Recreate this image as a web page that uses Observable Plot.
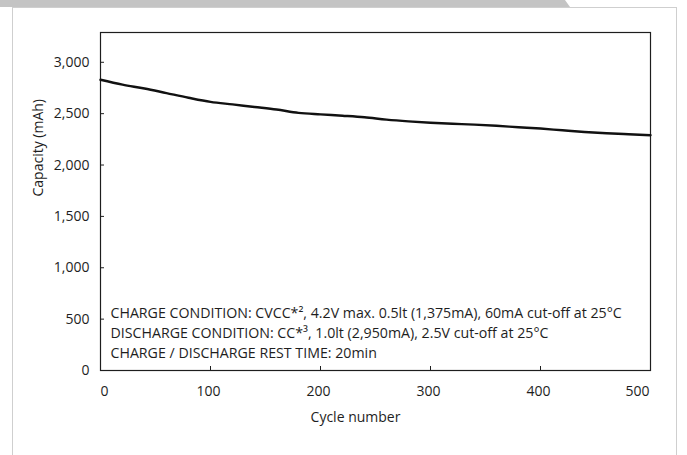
<!DOCTYPE html>
<html>
<head>
<meta charset="utf-8">
<script src="https://cdn.jsdelivr.net/npm/d3@7"></script>
<script src="https://cdn.jsdelivr.net/npm/@observablehq/plot@0.6"></script>
<style>
  html, body { margin: 0; padding: 0; background: #fff; }
  #wrap { position: relative; width: 687px; height: 455px; overflow: hidden; background: #fff; }
  #band { position: absolute; left: 0; top: 0; width: 570px; height: 7px; background: #c4c4c4;
          clip-path: polygon(0 0, 565px 0, 570px 7px, 0 7px); }
  #box { position: absolute; left: 12px; top: 7px; width: 665px; height: 460px;
         border: 1px solid #cfcfcf; border-bottom: none; box-sizing: border-box; }
  #chart { position: absolute; left: 0; top: 0; }
  #chart svg { background: transparent; }
</style>
</head>
<body>
<div id="wrap">
  <div id="box"></div>
  <div id="band"></div>
  <div id="chart"></div>
</div>
<script>
// Cycle life data
const cycles   = [0, 20, 40, 60, 80, 100, 120, 140, 160, 180, 200, 220, 240, 260, 280, 300, 320, 340, 360, 380, 400, 420, 440, 460, 480, 500];
const capacity = [2830, 2782, 2745, 2700, 2655, 2615, 2590, 2565, 2540, 2508, 2493, 2480, 2465, 2442, 2425, 2412, 2402, 2393, 2382, 2368, 2355, 2338, 2322, 2310, 2300, 2290];
const xTicks = [0, 100, 200, 300, 400, 500];
const yTicks = [0, 500, 1000, 1500, 2000, 2500, 3000];
const notes = [
  "CHARGE CONDITION: CVCC*², 4.2V max. 0.5lt (1,375mA), 60mA cut-off at 25°C",
  "DISCHARGE CONDITION: CC*³, 1.0lt (2,950mA), 2.5V cut-off at 25°C",
  "CHARGE / DISCHARGE REST TIME: 20min"
];
const xLabel = "Cycle number";
const yLabel = "Capacity (mAh)";

const data = cycles.map((c, i) => ({cycle: c, cap: capacity[i]}));
const font = "'Open Sans', Roboto, sans-serif";
const fmt = d3.format(",");
const ink = "#1e1e1e";

const chart = Plot.plot({
  width: 687,
  height: 455,
  marginLeft: 100,
  marginRight: 37,
  marginTop: 32,
  marginBottom: 85,
  style: {fontFamily: font, fontSize: "14px", color: ink, background: "transparent"},
  x: {domain: [0, 500]},
  y: {domain: [0, 3290]},
  marks: [
    Plot.frame({stroke: ink, strokeWidth: 1.2}),
    Plot.axisY(yTicks, {tickSize: -4, tickPadding: 15, tickFormat: fmt, fontSize: 14, fill: ink, stroke: ink, label: null}),
    Plot.axisX(xTicks, {tickSize: -4, tickFormat: () => "", stroke: ink, label: null}),
    Plot.text(xTicks.slice(1, 5), {x: d => d, frameAnchor: "bottom", dy: 25, dx: -2, text: d => String(d), fontSize: 14, fill: ink}),
    Plot.text([xTicks[0]], {x: d => d, frameAnchor: "bottom", dy: 25, dx: 4, text: d => String(d), fontSize: 14, fill: ink}),
    Plot.text([xTicks[5]], {x: d => d, frameAnchor: "bottom", dy: 25, dx: -13, text: d => String(d), fontSize: 14, fill: ink}),
    Plot.line(data, {x: "cycle", y: "cap", stroke: "#111", strokeWidth: 2.4, curve: "monotone-x"}),
    Plot.text([notes.join("\n")], {frameAnchor: "bottom-left", dx: 10, dy: -13, textAnchor: "start", lineAnchor: "bottom", lineHeight: 1.38, fontSize: 14.2, fill: ink}),
    Plot.text([xLabel], {frameAnchor: "bottom", dy: 51, dx: -20, fontSize: 14, fill: ink}),
    Plot.text([yLabel], {frameAnchor: "left", dx: -62, dy: -5, rotate: -90, fontSize: 14, fill: ink})
  ]
});
document.getElementById("chart").appendChild(chart);
</script>
</body>
</html>
